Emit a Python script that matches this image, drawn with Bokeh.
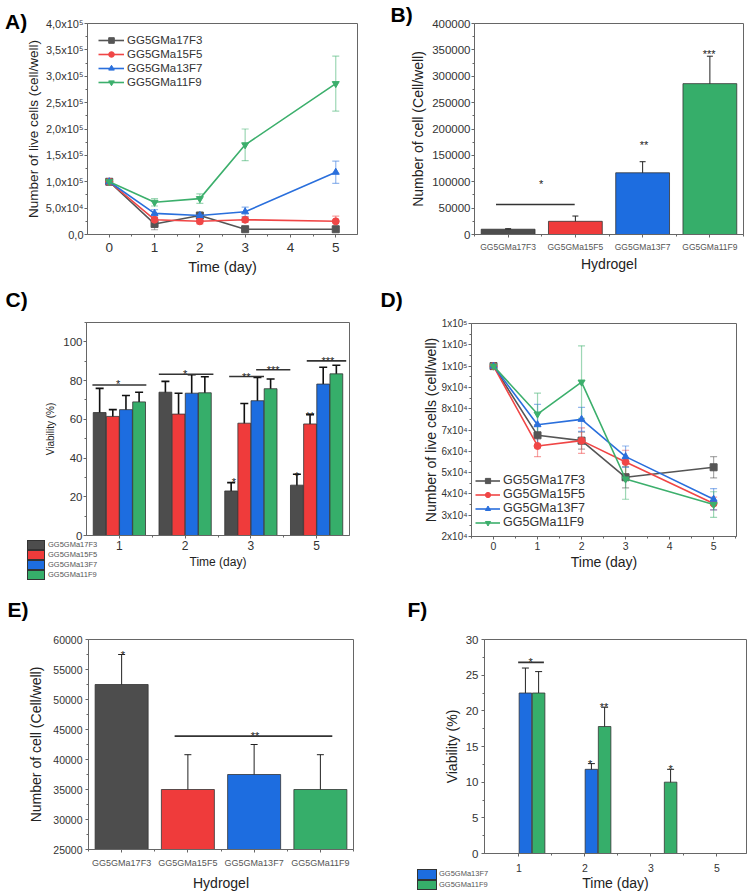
from bokeh.plotting import figure
from bokeh.models import (ColumnDataSource, Whisker, TeeHead, FixedTicker, Legend,
                          LegendItem, Label, Range1d, PrintfTickFormatter, Div)
from bokeh.layouts import column, row
from bokeh.embed import file_html
from bokeh.resources import INLINE
from bokeh.core.properties import value

# ---------------- data ----------------
series = ["GG5GMa17F3", "GG5GMa15F5", "GG5GMa13F7", "GG5GMa11F9"]
days_line = [0, 1, 2, 3, 5]
days_bar = ["1", "2", "3", "5"]

# A) live cells over time
a_17f3 = [100000, 20000, 36000, 10000, 10000]
a_15f5 = [100000, 28000, 25000, 28000, 25000]
a_13f7 = [100000, 40000, 36000, 43000, 118000]
a_11f9 = [100000, 61000, 68000, 170000, 286000]
a_17f3_err = [3000, 11000, 3000, 1500, 1500]
a_15f5_err = [3000, 5000, 5000, 5000, 10000]
a_13f7_err = [3000, 7000, 4000, 9000, 21000]
a_11f9_err = [3000, 7000, 9000, 30000, 52000]
a_yticks = [0, 50000, 100000, 150000, 200000, 250000, 300000, 350000, 400000]
a_ylabels = ["0,0", "5,0x10\u2074", "1,0x10\u2075", "1,5x10\u2075", "2,0x10\u2075",
             "2,5x10\u2075", "3,0x10\u2075", "3,5x10\u2075", "4,0x10\u2075"]

# B) cells per hydrogel
b_mean = [10000, 25000, 117000, 286000]
b_err = [1000, 10000, 21000, 52000]
b_yticks = [0, 50000, 100000, 150000, 200000, 250000, 300000, 350000, 400000]

# C) viability
c_17f3 = [63.5, 74.0, 23.0, 26.0]
c_15f5 = [61.5, 62.7, 58.0, 57.6]
c_13f7 = [65.0, 73.5, 69.6, 78.2]
c_11f9 = [69.0, 73.7, 75.8, 83.5]
c_17f3_err = [12.5, 5.6, 4.3, 5.6]
c_15f5_err = [3.5, 10.8, 10.2, 4.9]
c_13f7_err = [7.3, 9.5, 12.0, 8.7]
c_11f9_err = [5.0, 8.3, 5.0, 4.4]

# D) live cells over time (second condition)
d_17f3 = [100000, 67500, 65000, 47800, 52500]
d_15f5 = [100000, 62500, 65000, 55000, 35500]
d_13f7 = [100000, 72500, 75000, 57500, 37500]
d_11f9 = [100000, 77500, 92500, 47000, 35000]
d_17f3_err = [1000, 5000, 4000, 5000, 5000]
d_15f5_err = [1000, 5000, 6000, 5500, 3000]
d_13f7_err = [1000, 9500, 5600, 5000, 5000]
d_11f9_err = [1000, 9800, 17000, 9500, 6000]
d_yticks = [20000, 30000, 40000, 50000, 60000, 70000, 80000, 90000, 100000, 110000, 120000]
d_ylabels = ["2x10\u2074", "3x10\u2074", "4x10\u2074", "5x10\u2074", "6x10\u2074", "7x10\u2074",
             "8x10\u2074", "9x10\u2074", "1x10\u2075", "1x10\u2075", "1x10\u2075"]

# E) cells per hydrogel (second condition)
e_mean = [52500, 35000, 37500, 35000]
e_err = [5000, 5800, 5000, 5800]

# F) viability (two hydrogels)
f_series = ["GG5GMa13F7", "GG5GMa11F9"]
f_13f7 = [22.5, 11.8, 0.0, 0.0]
f_11f9 = [22.5, 17.8, 10.0, 0.0]
f_13f7_err = [3.5, 0.8, 0.0, 0.0]
f_11f9_err = [3.0, 2.7, 1.8, 0.0]

# ---------------- style ----------------
FONT = "Liberation Sans"
GRAY, RED, BLUE, GREEN = "#4d4d4d", "#ef3b3b", "#1d6de0", "#36ae6a"
LINE_COLORS = ["#555555", "#f04646", "#2a6fdc", "#3caf6c"]
BAR_COLORS = [GRAY, RED, BLUE, GREEN]
MARKERS = ["square", "circle", "triangle", "inverted_triangle"]
AX = "#666666"


def make_fig(w, h, left, right, top, bottom, xr, yr):
    p = figure(width=w, height=h, x_range=Range1d(*xr), y_range=Range1d(*yr),
               output_backend="svg", toolbar_location=None,
               min_border_left=left, min_border_right=right,
               min_border_top=top, min_border_bottom=bottom)
    p.xgrid.visible = False
    p.ygrid.visible = False
    p.outline_line_color = AX
    p.outline_line_width = 1
    p.background_fill_color = "white"
    p.border_fill_color = "white"
    for ax in (p.xaxis[0], p.yaxis[0]):
        ax.axis_line_color = AX
        ax.major_tick_line_color = AX
        ax.minor_tick_line_color = AX
        ax.major_tick_in = 0
        ax.major_tick_out = 3
        ax.minor_tick_in = 0
        ax.minor_tick_out = 2
        ax.major_label_text_font = FONT
        ax.major_label_text_color = "#333333"
        ax.axis_label_text_font = FONT
        ax.axis_label_text_font_style = "normal"
        ax.axis_label_text_color = "#222222"
    # remember frame geometry (canvas pixels) for placing out-of-frame texts
    p.tags = [dict(fl=left, ft=top, fw=w - left - right, fh=h - top - bottom, xr=xr, yr=yr)]
    return p


def to_data(p, px, py):
    g = p.tags[0]
    x = g["xr"][0] + (px - g["fl"]) / g["fw"] * (g["xr"][1] - g["xr"][0])
    y = g["yr"][1] - (py - g["ft"]) / g["fh"] * (g["yr"][1] - g["yr"][0])
    return x, y


def panel_letter(p, txt, px, py, side="left"):
    x, y = to_data(p, px, py)
    p.add_layout(Label(x=x, y=y, text=txt,
                       text_font=FONT, text_font_size="21px", text_font_style="bold",
                       text_baseline="top", text_align="left", text_color="black"), side)


def whisk(p, xs, means, errs, color, alpha, width, head):
    keep = [i for i, e in enumerate(errs) if e > 0]
    src = ColumnDataSource(dict(
        x=[xs[i] for i in keep],
        up=[means[i] + errs[i] for i in keep],
        lo=[means[i] - errs[i] for i in keep]))
    w = Whisker(source=src, base="x", upper="up", lower="lo",
                line_color=color, line_alpha=alpha, line_width=width,
                upper_head=TeeHead(size=head, line_color=color, line_alpha=alpha, line_width=width),
                lower_head=TeeHead(size=head, line_color=color, line_alpha=alpha, line_width=width))
    p.add_layout(w)


def stars(p, xs, ys, txts, size=12):
    p.text(x=xs, y=ys, text=txts, text_font=value(FONT), text_font_size=f"{size}px",
           text_align="center", text_baseline="alphabetic", y_offset=round(size * 0.45),
           text_color="#222222")


def sig_line(p, x0, x1, y):
    p.segment(x0=x0, x1=x1, y0=y, y1=y, line_color="#333333", line_width=1.6)


def axis_gaps(p, xs_lab, xs_ax, ys_lab, ys_ax):
    p.xaxis.major_label_standoff = xs_lab
    p.xaxis.axis_label_standoff = xs_ax
    p.yaxis.major_label_standoff = ys_lab
    p.yaxis.axis_label_standoff = ys_ax


def legend_div(names, colors, font_px, box_w, row_h, gap, w, h, margin):
    """Bar-colour key outside the plot frame, overlaid through a negative margin."""
    rows = []
    for n, c in zip(names, colors):
        rows.append(
            f'<div style="display:flex;align-items:center;height:{row_h}px;margin:0;padding:0">'
            f'<span style="display:inline-block;flex:none;width:{box_w}px;height:{row_h}px;'
            f'background:{c};border:0.7px solid #333;box-sizing:border-box;margin-right:{gap}px">'
            f'</span><span style="font-family:\'{FONT}\';font-size:{font_px}px;color:#555555;'
            f'line-height:{row_h}px;white-space:nowrap">{n}</span></div>')
    return Div(text='<div style="margin:0;padding:0">' + "".join(rows) + '</div>',
               width=w, height=h, margin=margin)


# ---------------- A ----------------
pa = make_fig(375, 280, 85, 18, 15, 46, (-0.48, 5.48), (0, 400000))
pa.xaxis.ticker = FixedTicker(ticks=[0, 1, 2, 3, 4, 5], minor_ticks=[-0.5, 0.5, 1.5, 2.5, 3.5, 4.5, 5.5])
pa.yaxis.ticker = FixedTicker(ticks=a_yticks, minor_ticks=[t + 25000 for t in a_yticks])
pa.yaxis.major_label_overrides = {t: l for t, l in zip(a_yticks, a_ylabels)}
pa.xaxis.major_label_text_font_size = "13.5px"
pa.yaxis.major_label_text_font_size = "11px"
pa.xaxis.axis_label = "Time (day)"
pa.yaxis.axis_label = "Number of live cells (cell/well)"
pa.xaxis.axis_label_text_font_size = "14.5px"
pa.yaxis.axis_label_text_font_size = "13.5px"
axis_gaps(pa, 5, 4, 1, 2)
a_items = []
for name, m, e, c, mk in zip(series, [a_17f3, a_15f5, a_13f7, a_11f9],
                             [a_17f3_err, a_15f5_err, a_13f7_err, a_11f9_err], LINE_COLORS, MARKERS):
    whisk(pa, days_line, m, e, c, 0.5, 1.2, 7)
    rl = pa.line(days_line, m, line_color=c, line_width=1.6)
    rm = pa.scatter(days_line, m, marker=mk, size=7, color=c)
    a_items.append(LegendItem(label=name, renderers=[rl, rm]))
leg_a = Legend(items=a_items, location=(11, 145), padding=0, spacing=0, margin=0,
               glyph_width=26, glyph_height=14, label_height=14, label_standoff=3,
               label_text_font=FONT, label_text_font_size="11.5px", label_text_color="#333333",
               border_line_alpha=0, background_fill_alpha=0)
pa.add_layout(leg_a, "center")
panel_letter(pa, "A)", 2, 1, "left")

# ---------------- B ----------------
pb = make_fig(374, 280, 99, 6, 23, 44, (-0.5, 3.5), (0, 400000))
pb.xaxis.ticker = FixedTicker(ticks=[0, 1, 2, 3], minor_ticks=[-0.5, 0.5, 1.5, 2.5, 3.5])
pb.yaxis.ticker = FixedTicker(ticks=b_yticks, minor_ticks=[t + 25000 for t in b_yticks])
pb.yaxis.formatter = PrintfTickFormatter(format="%d")
pb.xaxis.major_label_overrides = {i: s for i, s in enumerate(series)}
pb.xaxis.major_label_text_font_size = "8.5px"
pb.xaxis.major_label_text_color = "#555555"
pb.yaxis.major_label_text_font_size = "11.5px"
pb.xaxis.axis_label = "Hydrogel"
pb.yaxis.axis_label = "Number of cell (Cell/well)"
pb.xaxis.axis_label_text_font_size = "14px"
pb.yaxis.axis_label_text_font_size = "14px"
axis_gaps(pb, 4, 1, 1, 3)
bx = list(range(len(series)))
pb.vbar(x=bx, top=b_mean, width=0.8, fill_color=BAR_COLORS, line_color="#333333", line_width=0.8)
whisk(pb, bx, b_mean, b_err, "#222222", 1, 1, 6)
sig_line(pb, -0.18, 0.99, 57000)
stars(pb, [0.49, 2.02, 2.99], [105000, 180000, 351000], ["*", "**", "***"], 11)
panel_letter(pb, "B)", 15, 2, "left")

# ---------------- C ----------------
pc = make_fig(375, 310, 86, 26, 42, 55, (0.5, 4.5), (0, 110))
pc.xaxis.ticker = FixedTicker(ticks=[1, 2, 3, 4], minor_ticks=[1.5, 2.5, 3.5])
pc.yaxis.ticker = FixedTicker(ticks=[0, 20, 40, 60, 80, 100], minor_ticks=[10, 30, 50, 70, 90, 110])
pc.xaxis.major_label_overrides = {i + 1: d for i, d in enumerate(days_bar)}
pc.xaxis.major_label_text_font_size = "12px"
pc.yaxis.major_label_text_font_size = "11.5px"
pc.xaxis.axis_label = "Time (day)"
pc.yaxis.axis_label = "Viability (%)"
pc.xaxis.axis_label_text_font_size = "12px"
pc.yaxis.axis_label_text_font_size = "10px"
axis_gaps(pc, 2, 2, 1, 4)
offsets = [-0.3, -0.1, 0.1, 0.3]
for name, m, e, col, off in zip(series, [c_17f3, c_15f5, c_13f7, c_11f9],
                                [c_17f3_err, c_15f5_err, c_13f7_err, c_11f9_err], BAR_COLORS, offsets):
    xs = [i + 1 + off for i in range(len(days_bar))]
    pc.vbar(x=xs, top=m, width=0.195, fill_color=col, line_color="#333333", line_width=0.8)
    whisk(pc, xs, m, e, "#111111", 1, 1.6, 8)
sig_line(pc, 0.59, 1.41, 77.7)
sig_line(pc, 1.60, 2.43, 83.3)
sig_line(pc, 2.67, 3.20, 82.1)
sig_line(pc, 3.08, 3.60, 85.6)
sig_line(pc, 3.85, 4.45, 90.2)
stars(pc, [0.98, 2.0, 2.93, 3.34, 4.17, 2.74, 3.7, 3.9],
      [80.8, 85.8, 84.6, 88.0, 92.7, 30.0, 33.5, 64.1],
      ["*", "*", "**", "***", "***", "*", "*", "**"], 11)
panel_letter(pc, "C)", 5, 7, "left")
leg_c_div = legend_div(series, BAR_COLORS, 7.5, 18, 10, 3, 90, 40, (-50, 0, 0, 27))

# ---------------- D ----------------
pd_ = make_fig(374, 310, 96, 13, 43, 54, (-0.5, 5.52), (20000, 120000))
pd_.xaxis.ticker = FixedTicker(ticks=[0, 1, 2, 3, 4, 5], minor_ticks=[-0.5, 0.5, 1.5, 2.5, 3.5, 4.5, 5.5])
pd_.yaxis.ticker = FixedTicker(ticks=d_yticks, minor_ticks=[t + 5000 for t in d_yticks])
pd_.yaxis.major_label_overrides = {t: l for t, l in zip(d_yticks, d_ylabels)}
pd_.xaxis.major_label_text_font_size = "10.5px"
pd_.yaxis.major_label_text_font_size = "10px"
pd_.xaxis.axis_label = "Time (day)"
pd_.yaxis.axis_label = "Number of live cells (cell/well)"
pd_.xaxis.axis_label_text_font_size = "14px"
pd_.yaxis.axis_label_text_font_size = "14px"
axis_gaps(pd_, 2, 1, 1, 0)
d_items = []
for name, m, e, c, mk in zip(series, [d_17f3, d_15f5, d_13f7, d_11f9],
                             [d_17f3_err, d_15f5_err, d_13f7_err, d_11f9_err], LINE_COLORS, MARKERS):
    whisk(pd_, days_line, m, e, c, 0.5, 1.2, 7)
    rl = pd_.line(days_line, m, line_color=c, line_width=1.6)
    rm = pd_.scatter(days_line, m, marker=mk, size=7, color=c)
    d_items.append(LegendItem(label=name, renderers=[rl, rm]))
leg_d = Legend(items=d_items, location=(4, 7), padding=0, spacing=0, margin=0,
               glyph_width=25, glyph_height=13, label_height=13, label_standoff=3,
               label_text_font=FONT, label_text_font_size="12.5px", label_text_color="#333333",
               border_line_alpha=0, background_fill_alpha=0)
pd_.add_layout(leg_d, "center")
panel_letter(pd_, "D)", 5, 7, "left")

# ---------------- E ----------------
pe = make_fig(375, 303, 88, 22, 49, 40, (-0.5, 3.5), (25000, 60000))
pe.xaxis.ticker = FixedTicker(ticks=[0, 1, 2, 3], minor_ticks=[-0.5, 0.5, 1.5, 2.5, 3.5])
pe.yaxis.ticker = FixedTicker(ticks=[25000, 30000, 35000, 40000, 45000, 50000, 55000, 60000],
                              minor_ticks=[27500, 32500, 37500, 42500, 47500, 52500, 57500])
pe.yaxis.formatter = PrintfTickFormatter(format="%d")
pe.xaxis.major_label_overrides = {i: s for i, s in enumerate(series)}
pe.xaxis.major_label_text_font_size = "9px"
pe.xaxis.major_label_text_color = "#555555"
pe.yaxis.major_label_text_font_size = "10.5px"
pe.xaxis.axis_label = "Hydrogel"
pe.yaxis.axis_label = "Number of cell (Cell/well)"
pe.xaxis.axis_label_text_font_size = "14px"
pe.yaxis.axis_label_text_font_size = "14px"
axis_gaps(pe, 5, 4, 3, 6)
ex = list(range(len(series)))
pe.vbar(x=ex, bottom=25000, top=e_mean, width=0.8, fill_color=BAR_COLORS,
        line_color="#333333", line_width=0.8)
whisk(pe, ex, e_mean, e_err, "#222222", 1, 1, 7)
sig_line(pe, 0.80, 3.18, 43900)
stars(pe, [0.02, 2.015], [58200, 44800], ["*", "**"], 11)
panel_letter(pe, "E)", 7, 7, "left")

# ---------------- F ----------------
pf = make_fig(374, 303, 109, 3, 49, 40, (0.48, 4.45), (0, 30))
pf.xaxis.ticker = FixedTicker(ticks=[1, 2, 3, 4], minor_ticks=[1.5, 2.5, 3.5])
pf.yaxis.ticker = FixedTicker(ticks=[0, 5, 10, 15, 20, 25, 30],
                              minor_ticks=[2.5, 7.5, 12.5, 17.5, 22.5, 27.5])
pf.xaxis.major_label_overrides = {i + 1: d for i, d in enumerate(days_bar)}
pf.xaxis.major_label_text_font_size = "10.5px"
pf.yaxis.major_label_text_font_size = "11.5px"
pf.xaxis.axis_label = "Time (day)"
pf.yaxis.axis_label = "Viability (%)"
pf.xaxis.axis_label_text_font_size = "14px"
pf.yaxis.axis_label_text_font_size = "14px"
axis_gaps(pf, 7, 0, 3, 3)
for name, m, e, col, off in zip(f_series, [f_13f7, f_11f9], [f_13f7_err, f_11f9_err],
                                [BLUE, GREEN], [0.1, 0.3]):
    keep = [i for i, v in enumerate(m) if v > 0]
    xs = [keep_i + 1 + off for keep_i in keep]
    ms = [m[i] for i in keep]
    es = [e[i] for i in keep]
    pf.vbar(x=xs, top=ms, width=0.19, fill_color=col, line_color="#333333", line_width=0.8)
    whisk(pf, xs, ms, es, "#222222", 1, 1, 7)
sig_line(pf, 0.99, 1.38, 26.8)
stars(pf, [1.18, 2.08, 2.29, 3.3], [27.6, 13.3, 21.2, 12.6], ["*", "*", "**", "*"], 11)
panel_letter(pf, "F)", 32, 7, "left")
leg_f_div = legend_div(f_series, [BLUE, GREEN], 7.5, 20, 10.5, 2, 80, 21, (-24, 0, 0, 42))

layout = column(row(pa, pb),
                row(column(pc, leg_c_div), pd_),
                row(pe, column(pf, leg_f_div)))
open("out.html", "w").write(file_html(layout, INLINE))
